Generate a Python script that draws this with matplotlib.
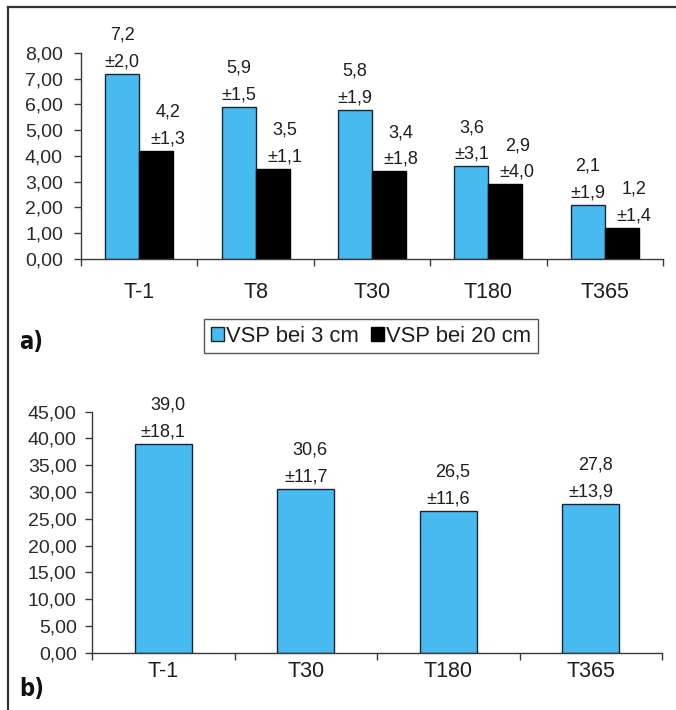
import matplotlib
matplotlib.use("Agg")
import matplotlib.pyplot as plt
from matplotlib.lines import Line2D
from matplotlib.ticker import FixedLocator, FuncFormatter
import numpy as np

# ---- data ----
cats_a = ["T-1", "T8", "T30", "T180", "T365"]
vsp3 = [7.2, 5.9, 5.8, 3.6, 2.1]
vsp3_sd = [2.0, 1.5, 1.9, 3.1, 1.9]
vsp20 = [4.2, 3.5, 3.4, 2.9, 1.2]
vsp20_sd = [1.3, 1.1, 1.8, 4.0, 1.4]
series_names = ["VSP bei 3 cm", "VSP bei 20 cm"]

cats_b = ["T-1", "T30", "T180", "T365"]
vals_b = [39.0, 30.6, 26.5, 27.8]
sd_b = [18.1, 11.7, 11.6, 13.9]

BLUE = "#47BAEF"
EDGE = "#1c2433"
TXT = "#1e1e1e"
FONT = "Liberation Sans"

def de(v):
    return f"{v:.1f}".replace(".", ",")

def lab(v, s):
    return de(v) + "\n\u00b1" + de(s)

fig = plt.figure(figsize=(6.76, 7.10), dpi=100)
W, H = 676, 710

# outer frame (top and left)
fig.add_artist(Line2D([8 / W, 1.0], [1 - 7 / H, 1 - 7 / H], transform=fig.transFigure,
                      color="#333333", lw=1.6))
fig.add_artist(Line2D([8 / W, 8 / W], [1 - 7 / H, 0.0], transform=fig.transFigure,
                      color="#333333", lw=1.6))

def style_axes(ax, ncat, ytick_pad, xlab_pad):
    for sp in ["top", "right"]:
        ax.spines[sp].set_visible(False)
    for sp in ["left", "bottom"]:
        ax.spines[sp].set_color("#3a3a3a")
        ax.spines[sp].set_linewidth(1.0)
    ax.set_xlim(-0.5, ncat - 0.5)
    ax.xaxis.set_minor_locator(FixedLocator(np.arange(-0.5, ncat, 1.0)))
    ax.tick_params(axis="x", which="major", length=0, pad=xlab_pad)
    ax.tick_params(axis="x", which="minor", length=5, width=1.0, color="#3a3a3a", direction="out")
    ax.tick_params(axis="y", which="major", length=5, width=1.0, color="#3a3a3a",
                   direction="out", pad=ytick_pad, labelsize=14,
                   labelfontfamily=FONT, labelcolor="#2a2a2a")
    ax.yaxis.set_major_formatter(FuncFormatter(lambda v, p: f"{v:.2f}".replace(".", ",")))

# ---- panel a ----
ax1 = fig.add_axes([81 / W, (H - 259) / H, 582 / W, 206 / H])
x_a = np.arange(len(cats_a))
bw = 0.292
b1 = ax1.bar(x_a - bw / 2, vsp3, bw, color=BLUE, edgecolor=EDGE, linewidth=1.0, label=series_names[0])
b2 = ax1.bar(x_a + bw / 2, vsp20, bw, color="black", edgecolor="black", linewidth=1.0, label=series_names[1])
ax1.set_ylim(0, 8)
ax1.set_yticks(np.arange(0, 8.01, 1.0))
ax1.set_xticks(x_a)
ax1.set_xticklabels(cats_a, fontsize=15.5, family=FONT, color=TXT)
style_axes(ax1, len(cats_a), 8, 16.5)

for rect, v, s in zip(b1, vsp3, vsp3_sd):
    ax1.annotate(lab(v, s), xy=(rect.get_x() + rect.get_width() / 2, v),
                 xytext=(0, 2.5), textcoords="offset points", ha="center", va="bottom",
                 multialignment="center", fontsize=13, family=FONT, color=TXT,
                 linespacing=1.75, annotation_clip=False)
for rect, v, s in zip(b2, vsp20, vsp20_sd):
    ax1.annotate(lab(v, s), xy=(rect.get_x() + rect.get_width() / 2, v),
                 xytext=(8.5, 2.5), textcoords="offset points", ha="center", va="bottom",
                 multialignment="center", fontsize=13, family=FONT, color=TXT,
                 linespacing=1.75, annotation_clip=False)

leg = fig.legend(handles=[b1, b2], labels=series_names, loc="center",
                 bbox_to_anchor=(371 / W, 1 - 336 / H), bbox_transform=fig.transFigure,
                 ncol=2, frameon=True, fancybox=False, shadow=False,
                 prop={"family": FONT, "size": 15.8},
                 handlelength=0.6, handleheight=0.6, handletextpad=0.08,
                 columnspacing=0.55, borderpad=0.3, borderaxespad=0)
leg.get_frame().set_edgecolor("#2a2a2a")
leg.get_frame().set_linewidth(1.0)
for t in leg.get_texts():
    t.set_color(TXT)

fig.text(19 / W, 1 - 342 / H, "a)", fontsize=17, fontweight="bold", fontstretch="condensed",
         family="DejaVu Sans", va="center", ha="left", color="#111111")

# ---- panel b ----
ax2 = fig.add_axes([92 / W, (H - 652.7) / H, 570 / W, 241 / H])
x_b = np.arange(len(cats_b))
b3 = ax2.bar(x_b, vals_b, 0.4, color=BLUE, edgecolor=EDGE, linewidth=1.0)
ax2.set_ylim(0, 45)
ax2.set_yticks(np.arange(0, 45.01, 5.0))
ax2.set_xticks(x_b)
ax2.set_xticklabels(cats_b, fontsize=15.5, family=FONT, color=TXT)
style_axes(ax2, len(cats_b), 6, 6.0)

for rect, v, s in zip(b3, vals_b, sd_b):
    ax2.annotate(lab(v, s), xy=(rect.get_x() + rect.get_width() / 2, v),
                 xytext=(0, 2.5), textcoords="offset points", ha="center", va="bottom",
                 multialignment="right", fontsize=13, family=FONT, color=TXT,
                 linespacing=1.75, annotation_clip=False)

fig.text(19 / W, 1 - 689 / H, "b)", fontsize=17, fontweight="bold", fontstretch="condensed",
         family="DejaVu Sans", va="center", ha="left", color="#111111")

fig.savefig("out.png", dpi=100)
